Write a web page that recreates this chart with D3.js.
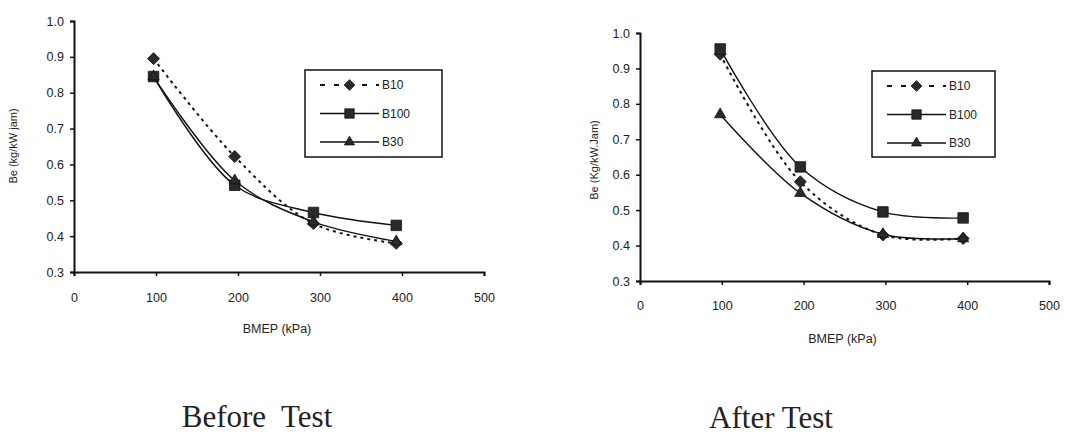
<!DOCTYPE html>
<html>
<head>
<meta charset="utf-8">
<script src="https://cdn.jsdelivr.net/npm/d3@7"></script>
<style>
  body { margin: 0; background: #fff; }
  svg { display: block; }
  text { font-family: "Liberation Sans", Arial, sans-serif; fill: #222; }
</style>
</head>
<body>
<div id="chart"></div>
<script>
// BMEP (kPa) readings
const bmepBefore = [97, 196, 292, 393];
const bmepAfter = [98, 196, 297, 395];

// Be (kg/kW jam) before test
const b10Before = [0.895, 0.622, 0.435, 0.38];
const b100Before = [0.845, 0.542, 0.466, 0.43];
const b30Before = [0.845, 0.555, 0.44, 0.385];

// Be (kg/kW jam) after test
const b10After = [0.94, 0.58, 0.43, 0.42];
const b100After = [0.955, 0.622, 0.495, 0.478];
const b30After = [0.77, 0.548, 0.432, 0.42];

const seriesNames = ["B10", "B100", "B30"];
const xTicks = [0, 100, 200, 300, 400, 500];
const yTicks = [0.3, 0.4, 0.5, 0.6, 0.7, 0.8, 0.9, 1.0];

const W = 1070, H = 437;
const svg = d3.select("#chart").append("svg").attr("width", W).attr("height", H);

const panels = [
  {
    x0: 74, x1: 484, y0: 272, y1: 21,
    xs: bmepBefore, data: [b10Before, b100Before, b30Before],
    yTitle: "Be (kg/kW jam)", yTitleX: 17, yTitleY: 146,
    xTitleY: 333, tickLabelY: 301,
    legend: { x: 305, y: 70, w: 137, h: 87 },
    caption: "Before  Test", capX: 257, capY: 427
  },
  {
    x0: 640, x1: 1049, y0: 281, y1: 33,
    xs: bmepAfter, data: [b10After, b100After, b30After],
    yTitle: "Be (Kg/kW.Jam)", yTitleX: 598, yTitleY: 160,
    xTitleY: 343, tickLabelY: 309,
    legend: { x: 872, y: 71, w: 123, h: 86 },
    caption: "After Test", capX: 771, capY: 428
  }
];

// diamond = square turned 45 degrees
const symbols = [d3.symbolSquare, d3.symbolSquare, d3.symbolTriangle];
const symRot = [45, 0, 0];
const symSize = [72, 110, 55];
const dashes = ["3,4", null, null];
const widths = [2, 1.4, 1.4];

panels.forEach(p => {
  const x = d3.scaleLinear().domain([0, 500]).range([p.x0, p.x1]);
  const y = d3.scaleLinear().domain([0.3, 1.0]).range([p.y0, p.y1]);
  const g = svg.append("g");

  // axes
  const yAxis = g.append("g").attr("transform", `translate(${p.x0},0)`)
    .call(d3.axisLeft(y).tickValues(yTicks).tickFormat(d3.format(".1f")).tickSize(4).tickPadding(6));
  const xAxis = g.append("g").attr("transform", `translate(0,${p.y0})`)
    .call(d3.axisBottom(x).tickValues(xTicks).tickSize(4).tickPadding(p.tickLabelY - p.y0 - 12));
  [yAxis, xAxis].forEach(a => {
    a.select(".domain").attr("stroke", "#111").attr("stroke-width", 2);
    a.selectAll(".tick line").attr("stroke", "#111").attr("stroke-width", 1.5);
    a.selectAll("text").style("font-size", "12.5px").attr("fill", "#333");
  });

  // axis titles
  g.append("text").attr("x", x(250) - 2).attr("y", p.xTitleY)
    .attr("text-anchor", "middle").style("font-size", "12.5px").text("BMEP (kPa)");
  g.append("text")
    .attr("transform", `translate(${p.yTitleX},${p.yTitleY}) rotate(-90)`)
    .attr("text-anchor", "middle").style("font-size", "11px").text(p.yTitle);

  // series
  p.data.forEach((vals, i) => {
    const pts = p.xs.map((v, j) => [v, vals[j]]);
    const line = d3.line().x(d => x(d[0])).y(d => y(d[1])).curve(d3.curveCatmullRom.alpha(0.5));
    g.append("path").datum(pts).attr("d", line)
      .attr("fill", "none").attr("stroke", "#111")
      .attr("stroke-width", widths[i])
      .attr("stroke-dasharray", dashes[i]);
    g.selectAll(null).data(pts).enter().append("path")
      .attr("d", d3.symbol().type(symbols[i]).size(symSize[i]))
      .attr("transform", d => `translate(${x(d[0])},${y(d[1])}) rotate(${symRot[i]})`)
      .attr("fill", "#2a2a2a").attr("stroke", "#111").attr("stroke-width", 0.8);
  });

  // legend
  const L = p.legend;
  g.append("rect").attr("x", L.x).attr("y", L.y).attr("width", L.w).attr("height", L.h)
    .attr("fill", "#fff").attr("stroke", "#111").attr("stroke-width", 1.5);
  seriesNames.forEach((name, i) => {
    const ly = L.y + 15 + i * 28.5;
    const lx0 = L.x + 15, lx1 = L.x + 74;
    g.append("line").attr("x1", lx0).attr("x2", lx1).attr("y1", ly).attr("y2", ly)
      .attr("stroke", "#111").attr("stroke-width", widths[i])
      .attr("stroke-dasharray", dashes[i] ? "5,9" : null);
    g.append("path")
      .attr("d", d3.symbol().type(symbols[i]).size(symSize[i] * 0.8))
      .attr("transform", `translate(${(lx0 + lx1) / 2},${ly}) rotate(${symRot[i]})`)
      .attr("fill", "#2a2a2a").attr("stroke", "#111").attr("stroke-width", 0.8);
    g.append("text").attr("x", lx1 + 3).attr("y", ly + 4)
      .style("font-size", "12px").attr("fill", "#333").text(name);
  });

  // caption
  g.append("text").attr("x", p.capX).attr("y", p.capY).attr("text-anchor", "middle")
    .style("font-family", "'Liberation Serif', 'Times New Roman', serif")
    .style("white-space", "pre")
    .style("font-size", "31px").attr("fill", "#222").text(p.caption);
});
</script>
</body>
</html>
